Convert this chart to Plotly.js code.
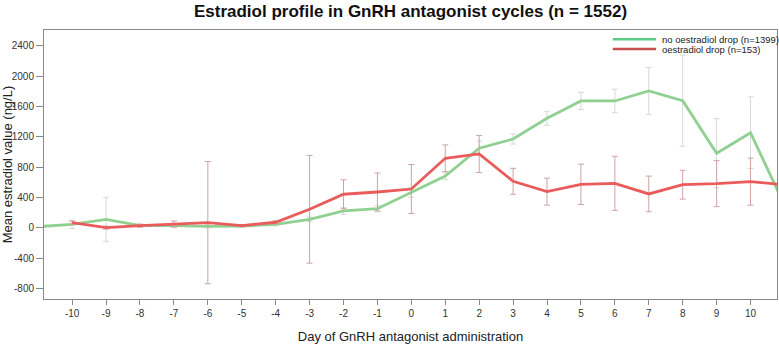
<!DOCTYPE html>
<html>
<head>
<meta charset="utf-8">
<script src="https://cdn.plot.ly/plotly-3.0.1.min.js"></script>
<style>html,body{margin:0;padding:0;background:#fff;}#chart{width:779px;height:344px;}</style>
</head>
<body>
<div id="chart"></div>
<script>
// Days of GnRH antagonist administration
const daysNoDrop = [-11,-10,-9,-8,-7,-6,-5,-4,-3,-2,-1,0,1,2,3,4,5,6,7,8,9,10,11];
const meanNoDrop = [16,47,113,29,29,21,25,47,113,223,253,469,684,1049,1171,1444,1672,1672,1804,1676,983,1254,300];
const errNoDrop  = [0,55,290,20,25,20,15,20,30,45,40,65,50,95,66,92,114,154,310,600,456,472,0];

const daysDrop = [-10,-9,-8,-7,-6,-5,-4,-3,-2,-1,0,1,2,3,4,5,6,7,8,9,10,11];
const meanDrop = [69,3,29,51,69,29,74,245,443,473,512,917,974,614,477,574,587,447,569,583,609,568];
const errDrop  = [20,20,20,40,805,15,20,710,190,250,323,176,244,171,178,266,356,235,190,303,310,0];

const xTicks = [-10,-9,-8,-7,-6,-5,-4,-3,-2,-1,0,1,2,3,4,5,6,7,8,9,10];
const yTicks = [-800,-400,0,400,800,1200,1600,2000,2400];

const legendLabels = ['no oestradiol drop (n=1399)', 'oestradiol drop (n=153)'];
const legendColors = ['#5ccb86', '#c85252'];

const font = 'Liberation Sans, Arial, sans-serif';

const traces = [
  {
    x: daysNoDrop, y: meanNoDrop, type: 'scatter', mode: 'lines', name: legendLabels[0],
    line: {color: '#90d090', width: 2.8},
    error_y: {type: 'data', array: errNoDrop, visible: true, color: '#d4dad4', thickness: 1, width: 3}
  },
  {
    x: daysDrop, y: meanDrop, type: 'scatter', mode: 'lines', name: legendLabels[1],
    line: {color: '#ea5c5c', width: 2.8},
    error_y: {type: 'data', array: errDrop, visible: true, color: '#cfa3a3', thickness: 1, width: 3}
  }
];

// Legend (drawn in paper coordinates, compact like the original)
const legX0 = 0.776, legX1 = 0.835, legTextX = 0.841;
const legY = [0.9655, 0.929];
const shapes = [];
const annotations = [];
legendLabels.forEach((lab, i) => {
  shapes.push({type: 'line', xref: 'paper', yref: 'paper', x0: legX0, x1: legX1, y0: legY[i], y1: legY[i],
               line: {color: legendColors[i], width: 2.5}});
  annotations.push({xref: 'paper', yref: 'paper', x: legTextX, y: legY[i], xanchor: 'left', yanchor: 'middle',
                    text: lab, showarrow: false, font: {family: font, size: 9.5, color: '#222'}});
});

const layout = {
  width: 779, height: 344,
  margin: {l: 44, r: 2, t: 30, b: 45},
  paper_bgcolor: '#fff', plot_bgcolor: '#fff',
  font: {family: font, color: '#222'},
  showlegend: false,
  shapes: shapes,
  annotations: annotations,
  title: {
    text: '<b>Estradiol profile in GnRH antagonist cycles (n = 1552)</b>',
    font: {family: font, size: 17, color: '#111'},
    xref: 'paper', x: 0.5, xanchor: 'center',
    yref: 'container', y: 0.967, yanchor: 'middle'
  },
  xaxis: {
    range: [-10.83, 10.78],
    tickmode: 'array', tickvals: xTicks, ticktext: xTicks.map(String),
    ticks: 'outside', ticklen: 5, tickcolor: '#888', tickwidth: 1,
    showline: true, linecolor: '#888', linewidth: 1, mirror: true,
    showgrid: false, zeroline: false,
    tickfont: {family: font, size: 10, color: '#333'},
    title: {text: 'Day of GnRH antagonist administration', font: {family: font, size: 13, color: '#222'}, standoff: 14}
  },
  yaxis: {
    range: [-937, 2607],
    tickmode: 'array', tickvals: yTicks, ticktext: yTicks.map(String),
    ticks: 'outside', ticklen: 7, tickcolor: '#888', tickwidth: 1,
    showline: true, linecolor: '#888', linewidth: 1, mirror: true,
    showgrid: false, zeroline: false,
    tickfont: {family: font, size: 10, color: '#333'},
    title: {text: 'Mean estradiol value (ng/L)', font: {family: font, size: 13, color: '#222'}, standoff: 6}
  }
};

Plotly.newPlot('chart', traces, layout, {displayModeBar: false, staticPlot: true});
</script>
</body>
</html>
